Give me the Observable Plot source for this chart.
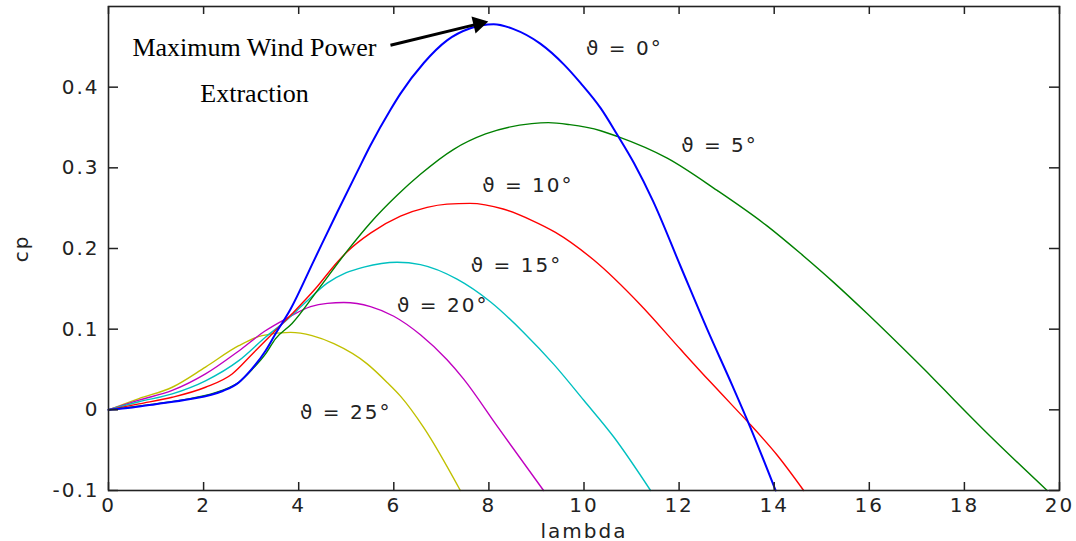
<!DOCTYPE html>
<html><head><meta charset="utf-8">
<script src="https://cdn.jsdelivr.net/npm/d3@7"></script>
<script src="https://cdn.jsdelivr.net/npm/@observablehq/plot@0.6"></script>
<style>
body{margin:0;background:#fff}
g[font-family*="Serif"]{letter-spacing:0}
</style>
</head><body><div id="chart"></div>
<script>
// beta = 0°
const lam0 = [0, 0.5, 0.99, 1.69, 2.39, 2.74, 3.02, 3.30, 3.51, 3.83, 4.32, 4.81, 5.23, 5.51, 5.93, 6.14, 6.63, 7.12, 7.61, 8.10, 8.52, 9.08, 9.58, 9.93, 10.35, 10.70, 11.05, 11.45, 12.03, 12.59, 13.12, 13.50, 14.03];
const cp0  = [0, 0.003, 0.007, 0.013, 0.023, 0.034, 0.051, 0.073, 0.094, 0.125, 0.185, 0.245, 0.295, 0.328, 0.372, 0.392, 0.43, 0.458, 0.473, 0.478, 0.472, 0.454, 0.428, 0.405, 0.374, 0.341, 0.306, 0.259, 0.178, 0.100, 0.030, -0.022, -0.1];
// beta = 5°
const lam5 = [0, 0.99, 1.69, 2.39, 2.74, 3.02, 3.30, 3.51, 3.86, 4.42, 5.02, 5.51, 6.07, 6.56, 7.26, 7.93, 8.9, 9.25, 9.7, 10.35, 10.70, 11.75, 12.80, 13.85, 14.55, 15.25, 15.96, 16.66, 17.36, 17.78, 18.41, 19.74];
const cp5  = [0, 0.0074, 0.0136, 0.024, 0.034, 0.05, 0.069, 0.088, 0.107, 0.150, 0.197, 0.232, 0.266, 0.292, 0.323, 0.342, 0.3548, 0.356, 0.3535, 0.346, 0.339, 0.312, 0.272, 0.228, 0.194, 0.158, 0.119, 0.079, 0.038, 0.0125, -0.025, -0.1];
// beta = 10°
const lam10 = [0, 0.64, 1.34, 2.04, 2.6, 3.02, 3.44, 3.86, 4.35, 4.81, 5.02, 5.51, 6.14, 6.7, 7.12, 7.6, 8.3, 8.9, 9.4, 10.2, 11.19, 12.03, 12.65, 13.08, 13.43, 14.06, 14.62];
const cp10  = [0, 0.0074, 0.0156, 0.028, 0.0445, 0.069, 0.094, 0.119, 0.15, 0.183, 0.196, 0.219, 0.24, 0.251, 0.255, 0.256, 0.249, 0.235, 0.22, 0.186, 0.13, 0.075, 0.035, 0.008, -0.014, -0.056, -0.1];
// beta = 15°
const lam15 = [0, 0.64, 1.34, 2.04, 2.74, 3.30, 3.72, 4.14, 4.6, 5.0, 5.37, 6.07, 6.56, 7.33, 8.03, 8.73, 9.37, 10.0, 10.63, 11.4];
const cp15  = [0, 0.01, 0.0198, 0.036, 0.061, 0.09, 0.11, 0.133, 0.157, 0.17, 0.177, 0.183, 0.18, 0.162, 0.134, 0.096, 0.056, 0.0115, -0.034, -0.1];
// beta = 20°
const lam20 = [0, 0.64, 1.34, 2.04, 2.74, 3.30, 3.72, 4.25, 4.6, 4.95, 5.51, 6.0, 6.56, 7.12, 7.47, 8.17, 9.15];
const cp20  = [0, 0.012, 0.024, 0.0445, 0.073, 0.098, 0.1125, 0.128, 0.132, 0.133, 0.128, 0.116, 0.093, 0.062, 0.038, -0.02, -0.1];
// beta = 25°
const lam25 = [0, 0.64, 1.34, 2.04, 2.74, 3.23, 3.83, 4.28, 4.74, 5.44, 5.86, 6.14, 6.63, 7.40];
const cp25  = [0, 0.014, 0.028, 0.053, 0.0795, 0.092, 0.096, 0.092, 0.082, 0.057, 0.034, 0.017, -0.022, -0.1];

const xTicks = [0, 2, 4, 6, 8, 10, 12, 14, 16, 18, 20];
const yTicks = [-0.1, 0, 0.1, 0.2, 0.3, 0.4];

const curveLabels = ["ϑ = 0°", "ϑ = 5°", "ϑ = 10°", "ϑ = 15°", "ϑ = 20°", "ϑ = 25°"];
const curveLabelLam = [10.85, 12.85, 8.82, 8.58, 7.03, 4.99];
const curveLabelCp = [0.448, 0.327, 0.278, 0.179, 0.1295, -0.003];

const noteLines = ["Maximum Wind Power", "Extraction"];
const noteLam = [3.07, 3.07];
const noteCp = [0.449, 0.392];
const arrowFrom = [5.93, 0.452];
const arrowHead = [7.78, 0.4785];

const series = [
  {lam: lam25, cp: cp25, color: "#c0c000", w: 1.4},
  {lam: lam20, cp: cp20, color: "#c000c0", w: 1.4},
  {lam: lam15, cp: cp15, color: "#00c0c0", w: 1.4},
  {lam: lam10, cp: cp10, color: "#ff0000", w: 1.4},
  {lam: lam5,  cp: cp5,  color: "#008000", w: 1.4},
  {lam: lam0,  cp: cp0,  color: "#0000ff", w: 2}
];

const W = 1076, H = 541, mL = 108, mR = 17, mT = 6, mB = 51;
const pw = W - mL - mR, ph = H - mT - mB;
const ink = "#222";

const labelRows = curveLabels.map((t, i) => ({t, x: curveLabelLam[i], y: curveLabelCp[i]}));
const noteRows = noteLines.map((t, i) => ({t, x: noteLam[i], y: noteCp[i]}));

const marks = [
  ...series.map(s => Plot.line(s.lam.map((l, i) => ({x: l, y: s.cp[i]})), {x: "x", y: "y", stroke: s.color, strokeWidth: s.w, curve: "monotone-x"})),
  Plot.frame({stroke: ink, strokeWidth: 1.6}),
  Plot.tickX(xTicks, {x: d => d, insetTop: ph - 8, stroke: ink, strokeWidth: 1.5}),
  Plot.tickX(xTicks, {x: d => d, insetBottom: ph - 8, stroke: ink, strokeWidth: 1.5}),
  Plot.tickY(yTicks, {y: d => d, insetRight: pw - 10, stroke: ink, strokeWidth: 1.5}),
  Plot.tickY(yTicks, {y: d => d, insetLeft: pw - 10, stroke: ink, strokeWidth: 1.5}),
  Plot.axisX({ticks: xTicks, tickSize: 0, tickPadding: 7, label: null, tickFormat: d => String(d)}),
  Plot.axisY({ticks: yTicks, tickSize: 0, tickPadding: 9, label: null, tickFormat: d => String(d)}),
  Plot.text(["lambda"], {frameAnchor: "bottom", text: d => d, dy: 41, lineAnchor: "middle", textAnchor: "middle", fill: ink}),
  Plot.text(["cp"], {frameAnchor: "left", text: d => d, dx: -87, rotate: -90, lineAnchor: "middle", textAnchor: "middle", fill: ink}),
  Plot.text(labelRows, {x: "x", y: "y", text: "t", fill: ink, lineAnchor: "middle"}),
  Plot.text(noteRows, {x: "x", y: "y", text: "t", fill: "#000", fontFamily: "Liberation Serif, Times New Roman, serif", fontSize: 26, lineAnchor: "middle"}),
  Plot.link([0], {x1: () => arrowFrom[0], y1: () => arrowFrom[1], x2: () => arrowHead[0], y2: () => arrowHead[1], stroke: "#000", strokeWidth: 3}),
  Plot.dot([0], {x: () => arrowHead[0], y: () => arrowHead[1], symbol: "triangle", r: 6.5, fill: "#000", stroke: "none", rotate: 76.5})
];

const plot = Plot.plot({
  width: W, height: H,
  marginLeft: mL, marginRight: mR, marginTop: mT, marginBottom: mB,
  x: {domain: [0, 20]},
  y: {domain: [-0.1, 0.5]},
  style: {fontFamily: "DejaVu Sans, sans-serif", fontSize: "20px", letterSpacing: "2px", color: ink, background: "#fff", overflow: "visible"},
  marks
});
document.getElementById("chart").append(plot);
</script>
</body></html>
